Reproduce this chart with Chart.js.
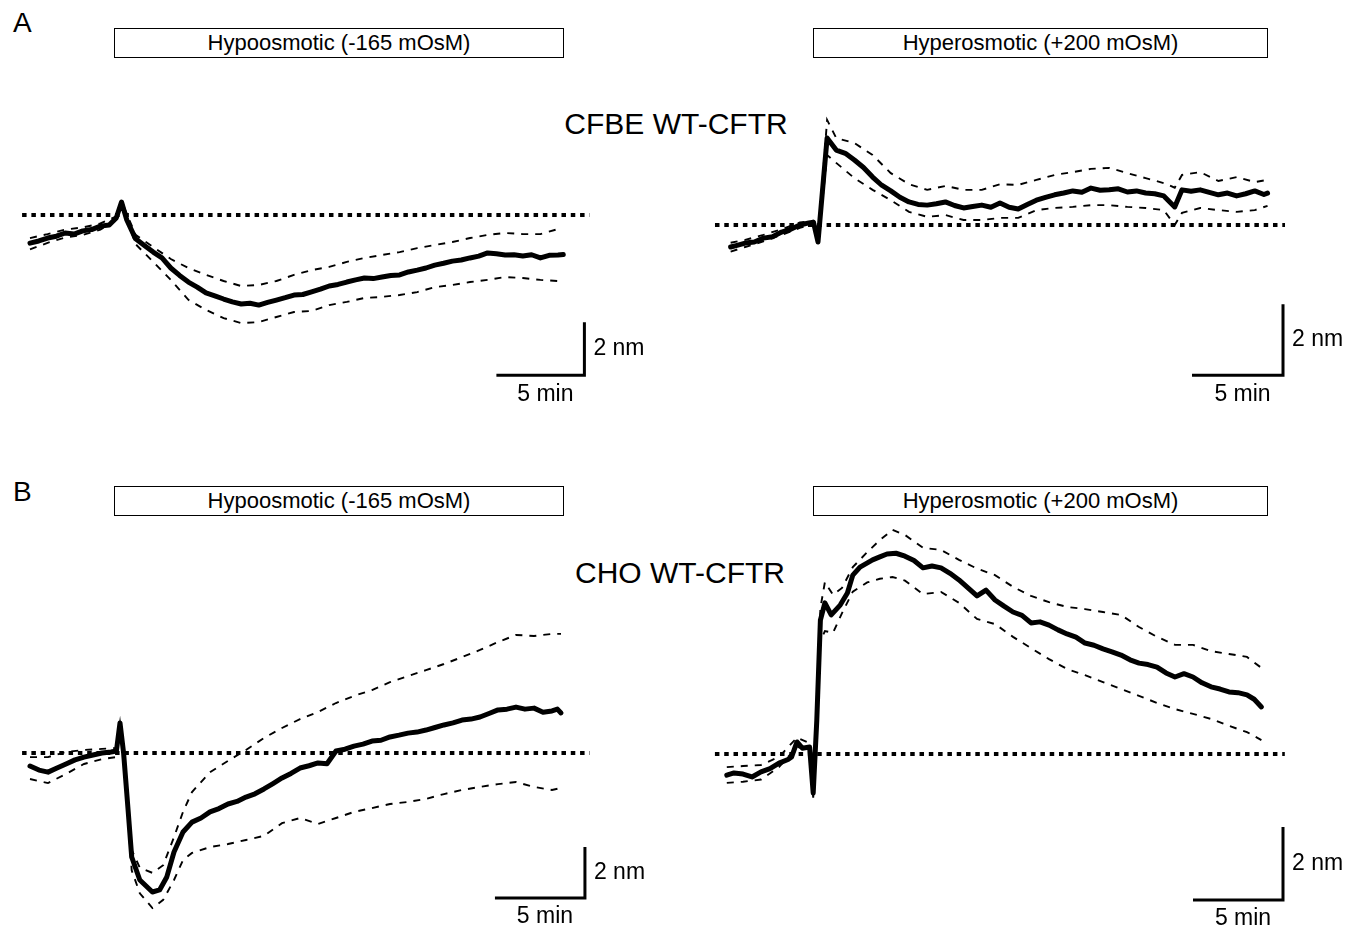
<!DOCTYPE html>
<html>
<head>
<meta charset="utf-8">
<script src="https://cdn.jsdelivr.net/npm/chart.js@4.4.1/dist/chart.umd.min.js"></script>
<style>
	body { margin: 0; background: #fff; width: 1359px; height: 926px; position: relative; overflow: hidden;
		font-family: "Liberation Sans", Arial, Helvetica, sans-serif; color: #000; }
	canvas { position: absolute; }
	.letter { position: absolute; font-size: 28px; line-height: 28px; }
	.cell { position: absolute; font-size: 30px; line-height: 30px; transform: translateX( -50% ); white-space: nowrap; }
	.stim { position: absolute; box-sizing: border-box; border: 1.5px solid #000; height: 30px;
		font-size: 22px; line-height: 27px; text-align: center; white-space: nowrap; }
</style>
</head>
<body>

<div class="letter" style="left:13px;top:9px">A</div>
<div class="letter" style="left:13px;top:478px">B</div>

<div class="stim" style="left:114px;top:28px;width:450px">Hypoosmotic (-165 mOsM)</div>
<div class="stim" style="left:813px;top:28px;width:455px">Hyperosmotic (+200 mOsM)</div>
<div class="stim" style="left:114px;top:486px;width:450px">Hypoosmotic (-165 mOsM)</div>
<div class="stim" style="left:813px;top:486px;width:455px">Hyperosmotic (+200 mOsM)</div>

<div class="cell" style="left:676px;top:109px">CFBE WT-CFTR</div>
<div class="cell" style="left:680px;top:558px">CHO WT-CFTR</div>

<script>

// time in min, change in nm (0 = baseline)

// A, hypoosmotic
const cfbeHypoT = [ 0, 0.5, 1, 1.5, 2, 2.5, 3, 3.5, 4, 4.5, 4.9, 5.2, 5.5,
	6, 6.5, 7, 7.5, 8, 8.5, 9, 9.5, 10, 10.5, 11, 11.5, 12, 12.5, 13, 13.5, 14, 14.5, 15, 15.5,
	16, 16.5, 17, 17.5, 18, 18.5, 19, 19.5, 20, 20.5, 21, 21.5, 22, 22.5, 23, 23.5, 24, 24.5,
	25, 25.5, 26, 26.5, 27, 27.5, 28, 28.5, 29, 29.5, 30, 30.3 ];
const cfbeHypoMean = [ -1.06, -0.98, -0.87, -0.80, -0.68, -0.72, -0.60, -0.55, -0.42, -0.38, -0.11, 0.49, -0.19,
	-0.90, -1.15, -1.40, -1.62, -2.00, -2.28, -2.53, -2.72, -2.94, -3.05, -3.17, -3.28, -3.36, -3.33, -3.40, -3.30, -3.21, -3.12, -3.02, -3.00,
	-2.90, -2.80, -2.68, -2.62, -2.53, -2.45, -2.38, -2.40, -2.34, -2.28, -2.26, -2.15, -2.08, -2.00, -1.89, -1.82, -1.74, -1.70,
	-1.62, -1.55, -1.43, -1.46, -1.51, -1.50, -1.55, -1.50, -1.62, -1.52, -1.51, -1.49 ];
const cfbeHypoSemT = [ 0, 1, 2, 3, 4, 4.9, 5.2, 6, 7, 8, 9, 10, 11, 12, 13, 14, 15, 16, 17, 18,
	19, 20, 21, 22, 23, 24, 25, 26, 27, 28, 29, 30 ];
const cfbeHypoUpper = [ -0.87, -0.72, -0.55, -0.47, -0.32, -0.05, 0.52, -0.75, -1.21, -1.66, -2.00, -2.26, -2.49, -2.68, -2.64, -2.49, -2.26, -2.08, -1.96, -1.77,
	-1.62, -1.51, -1.40, -1.25, -1.13, -1.02, -0.87, -0.75, -0.68, -0.72, -0.72, -0.53 ];
const cfbeHypoLower = [ -1.30, -1.05, -0.85, -0.75, -0.55, -0.20, 0.45, -1.10, -1.77, -2.45, -3.20, -3.58, -3.89, -4.08, -4.04, -3.85, -3.66, -3.62, -3.40, -3.28,
	-3.13, -3.09, -3.02, -2.91, -2.72, -2.64, -2.53, -2.45, -2.34, -2.38, -2.45, -2.49 ];

// A, hyperosmotic
const cfbeHyperT = [ 0.2, 0.5, 1, 1.5, 2, 2.5, 3, 3.5, 4, 4.5, 4.75, 5.0, 5.5,
	6, 6.5, 7, 7.5, 8, 8.5, 9, 9.5, 10, 10.5, 11, 11.5, 12, 12.5, 13, 13.5, 14, 14.5, 15, 15.5,
	16, 16.5, 17, 17.5, 18, 18.5, 19, 19.5, 20, 20.5, 21, 21.5, 22, 22.5, 23, 23.5, 24, 24.6,
	25, 25.5, 26, 26.5, 27, 27.5, 28, 28.5, 29, 29.5, 29.7 ];
const cfbeHyperMean = [ -0.62, -0.58, -0.51, -0.48, -0.37, -0.33, -0.20, -0.12, 0.00, 0.06, 0.08, -0.48, 2.45,
	2.11, 2.02, 1.83, 1.62, 1.35, 1.12, 0.96, 0.78, 0.65, 0.58, 0.56, 0.60, 0.65, 0.55, 0.48, 0.52, 0.56, 0.50, 0.62, 0.50,
	0.45, 0.58, 0.70, 0.78, 0.85, 0.90, 0.96, 0.92, 1.04, 0.98, 0.99, 1.02, 0.93, 0.96, 0.90, 0.88, 0.82, 0.51,
	0.99, 0.95, 0.99, 0.92, 0.85, 0.90, 0.82, 0.88, 0.96, 0.86, 0.90 ];
const cfbeHyperSemT = [ 0.2, 1, 2, 3, 4, 4.75, 5.0, 5.5, 6, 7, 8, 9, 10, 11, 12, 13, 14, 15, 16, 17,
	18, 19, 20, 21, 22, 23, 24, 24.6, 25, 26, 27, 28, 29, 29.7 ];
const cfbeHyperUpper = [ -0.50, -0.42, -0.28, -0.12, 0.07, 0.12, -0.42, 2.96, 2.45, 2.31, 1.97, 1.46, 1.15, 0.99, 1.10, 0.99, 0.99, 1.15, 1.13, 1.27,
	1.41, 1.49, 1.58, 1.61, 1.46, 1.32, 1.18, 1.05, 1.41, 1.49, 1.24, 1.35, 1.21, 1.27 ];
const cfbeHyperLower = [ -0.75, -0.62, -0.46, -0.28, -0.08, 0.03, -0.55, 1.97, 1.75, 1.32, 0.99, 0.70, 0.37, 0.23, 0.28, 0.14, 0.14, 0.20, 0.20, 0.42,
	0.48, 0.51, 0.56, 0.56, 0.51, 0.48, 0.42, 0.00, 0.34, 0.48, 0.42, 0.37, 0.42, 0.54 ];

// B, hypoosmotic
const choHypoT = [ 0, 0.5, 1, 1.5, 2, 2.5, 3, 3.5, 4, 4.5, 4.8, 5.0, 5.2, 5.45, 5.65, 6.1, 6.8, 7.2, 7.6, 8.0, 8.5,
	9, 9.5, 10, 10.5, 11, 11.5, 12, 12.5, 13, 13.5, 14, 14.5, 15, 15.5, 16, 16.5, 17, 17.5, 18, 18.5,
	19, 19.5, 20, 20.5, 21, 21.5, 22, 22.5, 23, 23.5, 24, 24.5, 25, 25.5, 26, 26.5, 27, 27.5, 28, 28.5,
	29, 29.3, 29.5 ];
const choHypoMean = [ -0.51, -0.67, -0.75, -0.59, -0.43, -0.27, -0.16, -0.08, 0.00, 0.04, 0.08, 1.18, 0.00, -2.24, -4.08, -4.98, -5.45, -5.37, -4.86, -3.88, -3.10,
	-2.71, -2.55, -2.31, -2.18, -2.00, -1.90, -1.73, -1.60, -1.41, -1.20, -0.98, -0.80, -0.59, -0.50, -0.39, -0.42, 0.08, 0.15, 0.27, 0.35,
	0.47, 0.50, 0.63, 0.70, 0.78, 0.82, 0.90, 1.00, 1.10, 1.18, 1.29, 1.33, 1.41, 1.55, 1.69, 1.72, 1.80, 1.72, 1.76, 1.60,
	1.65, 1.72, 1.57 ];
const choHypoSemT = [ 0, 1, 2, 3, 4, 4.8, 5.0, 5.2, 5.65, 6.1, 6.8, 7.4, 8.0, 8.5,
	9, 10, 11, 12, 13, 14, 15, 16, 17, 18, 19, 20, 21, 22, 23, 24, 25, 26, 27, 28, 29, 29.5 ];
const choHypoUpper = [ -0.16, -0.16, 0.04, 0.12, 0.16, 0.20, 1.18, 0.00, -3.80, -4.50, -4.70, -4.40, -3.30, -2.31,
	-1.53, -0.75, -0.31, 0.12, 0.59, 0.98, 1.33, 1.61, 1.96, 2.24, 2.47, 2.78, 3.02, 3.25, 3.49, 3.76, 4.04, 4.35, 4.63, 4.59, 4.67, 4.67 ];
const choHypoLower = [ -1.02, -1.18, -0.82, -0.43, -0.24, -0.16, 1.10, -0.08, -4.60, -5.50, -6.08, -5.76, -4.98, -4.20,
	-3.92, -3.69, -3.57, -3.41, -3.25, -2.75, -2.55, -2.78, -2.55, -2.31, -2.16, -2.00, -1.92, -1.80, -1.61, -1.45, -1.33, -1.22, -1.14, -1.33, -1.45, -1.37 ];

// B, hyperosmotic
const choHyperT = [ 0.1, 0.5, 1, 1.5, 2, 2.5, 3, 3.5, 3.7, 4.0, 4.3, 4.7, 4.9, 5.1, 5.3, 5.55, 5.9, 6.4, 6.8, 7.1, 7.5, 8.2, 8.6,
	9, 9.5, 10, 10.5, 11, 11.5, 12, 12.5, 13, 13.5, 14, 14.5, 15, 15.5, 16, 16.5, 17, 17.5, 18, 18.5,
	19, 19.5, 20, 20.5, 21, 21.5, 22, 22.5, 23, 23.5, 24, 24.5, 25, 25.5, 26, 26.5, 27, 27.5, 28, 28.5,
	29, 29.4, 29.8 ];
const choHyperMean = [ -0.58, -0.52, -0.55, -0.63, -0.49, -0.40, -0.25, -0.15, -0.08, 0.33, 0.16, 0.19, -1.07, 0.93, 3.67, 4.14, 3.81, 4.08, 4.41, 4.90, 5.12, 5.32, 5.40,
	5.48, 5.50, 5.42, 5.30, 5.10, 5.15, 5.10, 4.95, 4.77, 4.55, 4.33, 4.49, 4.22, 4.05, 3.89, 3.80, 3.59, 3.62, 3.53, 3.40,
	3.29, 3.20, 3.04, 2.98, 2.88, 2.80, 2.71, 2.58, 2.49, 2.45, 2.38, 2.22, 2.11, 2.20, 2.11, 1.95, 1.84, 1.78, 1.70, 1.68,
	1.62, 1.50, 1.29 ];
const choHyperSemT = [ 0.1, 1, 2, 3, 4.0, 4.7, 4.9, 5.1, 5.3, 5.55, 6, 6.5, 7.1, 7.9, 8.6, 9.3,
	10, 11, 12, 13, 14, 15, 16, 17, 18, 19, 20, 21, 22, 23, 24, 25, 26, 27, 28, 29, 29.8 ];
const choHyperUpper = [ -0.36, -0.33, -0.30, -0.08, 0.45, 0.30, -0.90, 1.20, 4.00, 4.71, 4.36, 4.55, 5.12, 5.53, 5.86, 6.14,
	6.00, 5.65, 5.59, 5.32, 5.08, 4.90, 4.58, 4.33, 4.16, 4.03, 3.97, 3.89, 3.81, 3.48, 3.21, 2.99, 2.99, 2.82, 2.74, 2.66, 2.36 ];
const choHyperLower = [ -0.79, -0.76, -0.70, -0.36, 0.20, 0.08, -1.20, 0.70, 3.10, 3.37, 3.32, 3.86, 4.45, 4.70, 4.80, 4.85,
	4.75, 4.38, 4.44, 4.14, 3.70, 3.56, 3.21, 2.90, 2.60, 2.33, 2.16, 1.97, 1.78, 1.59, 1.40, 1.23, 1.10, 0.96, 0.77, 0.60, 0.38 ];

const scaleMin = 5;	// horizontal bar, min
const scaleNm = 2;	// vertical bar, nm

// where each panel sits on the page and how big one unit is there
const panels = [
	{ t: cfbeHypoT, mean: cfbeHypoMean, semT: cfbeHypoSemT, upper: cfbeHypoUpper, lower: cfbeHypoLower,
		left: 0, top: 60, width: 680, height: 370, x0: 30, pxMin: 17.6, y0: 215, pxNm: 26.5,
		baseline: [ -0.45, 31.8 ], bar: [ 31.5, -6.05 ] },
	{ t: cfbeHyperT, mean: cfbeHyperMean, semT: cfbeHyperSemT, upper: cfbeHyperUpper, lower: cfbeHyperLower,
		left: 690, top: 60, width: 669, height: 370, x0: 727, pxMin: 18.2, y0: 225, pxNm: 35.5,
		baseline: [ -0.66, 30.66 ], bar: [ 30.55, -4.23 ] },
	{ t: choHypoT, mean: choHypoMean, semT: choHypoSemT, upper: choHypoUpper, lower: choHypoLower,
		left: 0, top: 520, width: 680, height: 406, x0: 30, pxMin: 18, y0: 753, pxNm: 25.5,
		baseline: [ -0.44, 31.1 ], bar: [ 30.83, -5.69 ] },
	{ t: choHyperT, mean: choHyperMean, semT: choHyperSemT, upper: choHyperUpper, lower: choHyperLower,
		left: 690, top: 520, width: 669, height: 406, x0: 725, pxMin: 18, y0: 754, pxNm: 36.5,
		baseline: [ -0.56, 31.1 ], bar: [ 31.0, -4.0 ] }
];

const zip = ( xs, ys ) => xs.map( ( x, i ) => ( { x: x, y: ys[ i ] } ) );

// labels beside the scale bar
const scaleBarLabels = {
	id: 'scaleBarLabels',
	afterDatasetsDraw ( chart, args, opts ) {

		const ctx = chart.ctx;
		const xs = chart.scales.x;
		const ys = chart.scales.y;
		const cx = xs.getPixelForValue( opts.x );
		const cy = ys.getPixelForValue( opts.y );
		const top = ys.getPixelForValue( opts.y + scaleNm );
		const left = xs.getPixelForValue( opts.x - scaleMin );

		ctx.save();
		ctx.fillStyle = '#000';
		ctx.font = '23px "Liberation Sans", Arial, sans-serif';
		ctx.textBaseline = 'middle';
		ctx.textAlign = 'left';
		ctx.fillText( scaleNm + ' nm', cx + 9, ( cy + top ) / 2 );
		ctx.textAlign = 'center';
		ctx.fillText( scaleMin + ' min', ( cx + left ) / 2 + 5, cy + 19 );
		ctx.restore();

	}
};

panels.forEach( p => {

	const canvas = document.createElement( 'canvas' );
	canvas.width = p.width;
	canvas.height = p.height;
	canvas.style.left = p.left + 'px';
	canvas.style.top = p.top + 'px';
	document.body.appendChild( canvas );

	const bx = p.bar[ 0 ];
	const by = p.bar[ 1 ];

	new Chart( canvas, {
		type: 'line',
		data: {
			datasets: [
				{ data: zip( p.t, p.mean ), borderColor: '#000', borderWidth: 5,
					borderJoinStyle: 'round', borderCapStyle: 'round' },
				{ data: zip( p.semT, p.upper ), borderColor: '#000', borderWidth: 1.9, borderDash: [ 7, 7 ] },
				{ data: zip( p.semT, p.lower ), borderColor: '#000', borderWidth: 1.9, borderDash: [ 7, 7 ] },
				{ data: [ { x: p.baseline[ 0 ], y: 0 }, { x: p.baseline[ 1 ], y: 0 } ],
					borderColor: '#000', borderWidth: 4, borderDash: [ 4.5, 4.8 ] },
				{ data: [ { x: bx - scaleMin, y: by }, { x: bx, y: by }, { x: bx, y: by + scaleNm } ],
					borderColor: '#000', borderWidth: 3, borderJoinStyle: 'miter' }
			]
		},
		options: {
			responsive: false,
			animation: false,
			events: [],
			layout: { padding: 0 },
			elements: {
				point: { radius: 0 },
				line: { tension: 0, fill: false }
			},
			scales: {
				x: { type: 'linear', display: false,
					min: ( p.left - p.x0 ) / p.pxMin, max: ( p.left + p.width - p.x0 ) / p.pxMin },
				y: { type: 'linear', display: false,
					min: ( p.y0 - p.top - p.height ) / p.pxNm, max: ( p.y0 - p.top ) / p.pxNm }
			},
			plugins: {
				legend: { display: false },
				tooltip: { enabled: false },
				scaleBarLabels: { x: bx, y: by }
			}
		},
		plugins: [ scaleBarLabels ]
	} );

} );

</script>
</body>
</html>
